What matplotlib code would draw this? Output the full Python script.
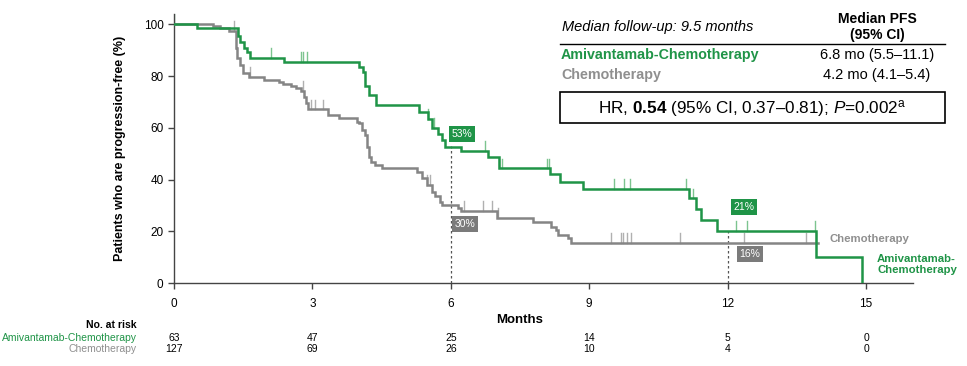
import matplotlib
matplotlib.use("Agg")
import matplotlib.pyplot as plt
from matplotlib import font_manager

plt.rcParams['font.family'] = ['Liberation Sans', 'DejaVu Sans']
plt.rcParams['mathtext.fontset'] = 'custom'
plt.rcParams['mathtext.rm'] = 'Liberation Sans'
plt.rcParams['mathtext.bf'] = 'Liberation Sans:bold'
plt.rcParams['mathtext.it'] = 'Liberation Sans:italic'

# ---------------- data ----------------
green_times = [0.5, 1.39, 1.44, 1.52, 1.59, 1.64, 2.38, 4.0, 4.1, 4.15, 4.22, 4.37,
               5.30, 5.50, 5.60, 5.72, 5.80, 5.88, 6.22, 6.81, 7.04, 8.16, 8.36, 8.86,
               11.16, 11.32, 11.42, 11.78, 13.92, 14.91]
green_surv = [98.4, 95.6, 93.3, 90.7, 89.2, 87.1, 85.3, 83.6, 81.7, 76.0, 72.7, 68.8,
              66.2, 63.4, 59.8, 57.5, 55.2, 52.7, 51.0, 48.8, 44.3, 42.0, 39.2, 36.3,
              32.7, 28.5, 24.3, 20.2, 10.1, 0.0]
green_end = 14.91
green_censor = [0.0, 2.1, 2.75, 2.8, 2.89, 5.5, 5.64, 6.74, 7.04, 7.1, 8.08, 8.12,
                9.54, 9.75, 9.88, 11.1, 11.26, 12.18, 12.43, 13.9]

gray_times = [0.85, 0.99, 1.19, 1.35, 1.37, 1.44, 1.49, 1.62, 1.96, 2.28, 2.36, 2.54,
              2.64, 2.75, 2.81, 2.86, 2.90, 3.33, 3.58, 3.96, 4.00, 4.08, 4.15, 4.19,
              4.22, 4.28, 4.35, 4.50, 5.27, 5.37, 5.48, 5.59, 5.66, 5.77, 5.80, 6.15,
              6.22, 7.01, 7.78, 8.17, 8.28, 8.33, 8.53, 8.60]
gray_surv = [99.2, 98.4, 97.6, 90.7, 86.9, 84.3, 81.0, 79.6, 78.5, 77.8, 76.9, 76.3,
             75.3, 74.2, 72.0, 69.5, 67.1, 65.0, 63.7, 62.4, 61.7, 59.1, 57.2, 52.7,
             48.8, 46.9, 45.6, 44.3, 43.0, 40.5, 37.9, 35.3, 33.6, 31.4, 30.2, 28.9,
             27.9, 25.0, 23.7, 21.8, 20.5, 18.6, 17.3, 15.6]
gray_end = 13.96
gray_censor = [1.3, 1.64, 2.79, 2.97, 3.05, 3.24, 5.48, 5.55, 6.29, 6.70, 6.90, 7.03,
               9.48, 9.68, 9.73, 9.81, 9.90, 10.96, 12.36, 13.71, 13.91]

landmark_months = [6, 12]
green_landmark = [53, 21]
gray_landmark = [30, 16]

risk_months = [0, 3, 6, 9, 12, 15]
risk_green = [63, 47, 25, 14, 5, 0]
risk_gray = [127, 69, 26, 10, 4, 0]

arm_green = "Amivantamab-Chemotherapy"
arm_gray = "Chemotherapy"
median_green = "6.8 mo (5.5–11.1)"
median_gray = "4.2 mo (4.1–5.4)"

GREEN = "#1f9447"
GREEN_L = "#7cc48f"
GRAY = "#858585"
GRAY_L = "#b0b0b0"
GRAYTXT = "#8f8f8f"

W, H = 967, 366
fig = plt.figure(figsize=(W / 100, H / 100), dpi=100)
ax_l, ax_r = 174, 913
ax_b, ax_t = 283, 14
ax = fig.add_axes([ax_l / W, 1 - ax_b / H, (ax_r - ax_l) / W, (ax_b - ax_t) / H])
xmax = 15 * (ax_r - ax_l) / (866 - 174)
ymax = 100 * (ax_b - ax_t) / (283 - 24.3)
ax.set_xlim(0, xmax)
ax.set_ylim(0, ymax)


def surv_at(times, surv, t):
    s = 100.0
    for ti, si in zip(times, surv):
        if ti <= t:
            s = si
    return s


def draw_curve(times, surv, end, censor, col, ccol):
    xs = [0] + list(times) + [end]
    ys = [100] + list(surv) + [surv[-1]]
    ax.step(xs, ys, where='post', color=col, lw=1.8, zorder=3, solid_joinstyle='miter')
    for c in censor:
        s = surv_at(times, surv, c)
        ax.plot([c, c], [s, s + 3.8], color=ccol, lw=1.0, zorder=2)


draw_curve(gray_times, gray_surv, gray_end, gray_censor, GRAY, GRAY_L)
draw_curve(green_times, green_surv, green_end, green_censor, GREEN, GREEN_L)

for m, g in zip(landmark_months, green_landmark):
    ax.plot([m, m], [0, g], ls=(0, (2, 2)), color="#555555", lw=0.9, zorder=1)

# landmark boxes (offsets in data units)
green_box_dx = [0.02, 0.12]
green_box_dy = [4.6, 8.4]
gray_box_dx = [0.08, 0.26]
gray_box_dy = [-7.2, -4.8]
for m, g, dx, dy in zip(landmark_months, green_landmark, green_box_dx, green_box_dy):
    ax.text(m + dx, g + dy, f"{g}%", color='white', fontsize=7.5,
            ha='left', va='center', zorder=5,
            bbox=dict(boxstyle='square,pad=0.25', fc=GREEN, ec='none'))
for m, g, dx, dy in zip(landmark_months, gray_landmark, gray_box_dx, gray_box_dy):
    ax.text(m + dx, g + dy, f"{g}%", color='white', fontsize=7.5,
            ha='left', va='center', zorder=5,
            bbox=dict(boxstyle='square,pad=0.25', fc="#7b7b7b", ec='none'))

ax.text(14.2, 17.0, arm_gray, color=GRAYTXT, fontsize=8.2, fontweight='bold',
        ha='left', va='center')
ax.text(15.24, 7.2, "Amivantamab-\nChemotherapy", color=GREEN, fontsize=8.2,
        fontweight='bold', ha='left', va='center', linespacing=1.2)

for s in ['top', 'right']:
    ax.spines[s].set_visible(False)
for s in ['left', 'bottom']:
    ax.spines[s].set_color('#444444')
    ax.spines[s].set_linewidth(1.0)
ax.set_xticks(risk_months)
ax.set_yticks([0, 20, 40, 60, 80, 100])
ax.tick_params(axis='both', labelsize=8.5, color='#444444', length=4, width=1.0,
               labelcolor='black')
ax.tick_params(axis='x', pad=7)
ax.set_ylabel("Patients who are progression-free (%)", fontsize=9, fontweight='bold',
              labelpad=13)


def px(x, y):
    return x / W, 1 - y / H


fig.text(*px(520, 320), "Months", fontsize=9.5, fontweight='bold', ha='center', va='center')

# risk table font
names = {f.name for f in font_manager.fontManager.ttflist}
if 'Liberation Sans Narrow' in names:
    rfam, rsize = ['Liberation Sans Narrow', 'DejaVu Sans'], 9.0
else:
    rfam, rsize = ['Liberation Sans', 'DejaVu Sans'], 7.5

rx = 137
fig.text(*px(rx, 325), "No. at risk", fontsize=rsize, fontweight='bold', ha='right',
         va='center', family=rfam)
fig.text(*px(rx, 338), arm_green, fontsize=rsize, color=GREEN, ha='right', va='center',
         family=rfam)
fig.text(*px(rx, 349), arm_gray, fontsize=rsize, color=GRAYTXT, ha='right', va='center',
         family=rfam)
for m, a, b in zip(risk_months, risk_green, risk_gray):
    xd = ax.transData.transform((m, 0))[0]
    xf = xd / fig.bbox.width
    fig.text(xf, 1 - 338 / H, str(a), fontsize=rsize, ha='center', va='center', family=rfam)
    fig.text(xf, 1 - 349 / H, str(b), fontsize=rsize, ha='center', va='center', family=rfam)

# legend table
fig.text(*px(562, 27), "Median follow-up: 9.5 months", fontsize=10.5, style='italic',
         ha='left', va='center')
fig.text(*px(877, 19), "Median PFS", fontsize=10, fontweight='bold', ha='center', va='center')
fig.text(*px(877, 35), "(95% CI)", fontsize=10, fontweight='bold', ha='center', va='center')
fig.add_artist(plt.Line2D([560 / W, 945 / W], [1 - 43.5 / H, 1 - 43.5 / H],
                          color='black', lw=1.0))
fig.text(*px(561, 55), arm_green, fontsize=10.3, fontweight='bold', color=GREEN,
         ha='left', va='center')
fig.text(*px(877, 55), median_green, fontsize=10.5, ha='center', va='center')
fig.text(*px(561, 75), arm_gray, fontsize=10.3, fontweight='bold', color=GRAYTXT,
         ha='left', va='center')
fig.text(*px(877, 75), median_gray, fontsize=10.5, ha='center', va='center')
fig.add_artist(plt.Rectangle((560 / W, 1 - 123 / H), (945 - 560) / W, 31 / H,
                             fill=False, ec='black', lw=1.2, transform=fig.transFigure))
fig.text(*px(752, 108), r"HR, $\mathbf{0.54}$ (95% CI, 0.37–0.81); $\mathit{P}$=0.002$^{\mathrm{a}}$",
         fontsize=12.3, ha='center', va='center')

fig.savefig("out.png", dpi=100)
